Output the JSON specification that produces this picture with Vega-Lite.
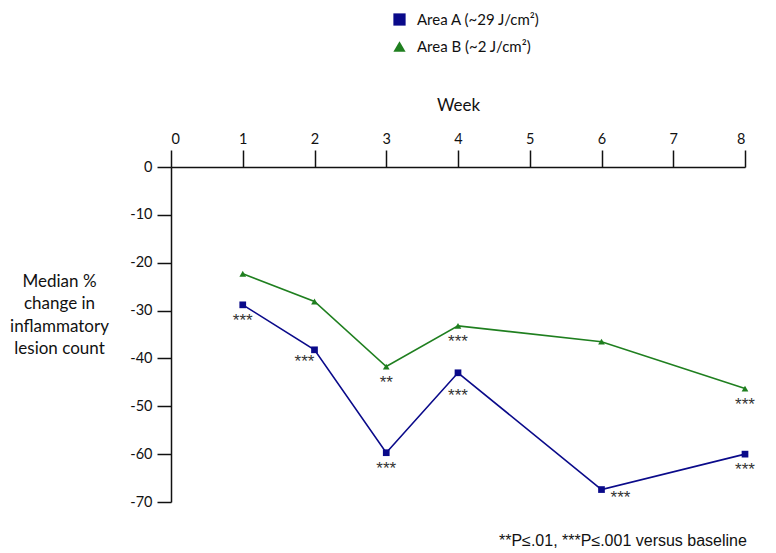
{
  "$schema": "https://vega.github.io/schema/vega-lite/v6.json",
  "width": 574,
  "height": 335,
  "autosize": {"type": "none"},
  "padding": {"left": 171, "top": 167, "right": 31, "bottom": 51},
  "background": "white",
  "config": {"view": {"stroke": null}, "font": "Lato"},
  "title": {
    "text": "**P≤.01, ***P≤.001 versus baseline",
    "orient": "bottom",
    "anchor": "end",
    "offset": 24,
    "dx": -8,
    "font": "Liberation Sans",
    "fontSize": 16,
    "fontWeight": "normal",
    "color": "#111"
  },
  "data": {
    "values": [
      {"week": 1, "value": -28.8, "series": "Area A (~29 J/cm²)", "sig": "***"},
      {"week": 2, "value": -38.2, "series": "Area A (~29 J/cm²)", "sig": "***"},
      {"week": 3, "value": -59.7, "series": "Area A (~29 J/cm²)", "sig": "***"},
      {"week": 4, "value": -43.0, "series": "Area A (~29 J/cm²)", "sig": "***"},
      {"week": 6, "value": -67.4, "series": "Area A (~29 J/cm²)", "sig": "***"},
      {"week": 8, "value": -60.0, "series": "Area A (~29 J/cm²)", "sig": "***"},
      {"week": 1, "value": -22.3, "series": "Area B (~2 J/cm²)", "sig": ""},
      {"week": 2, "value": -28.1, "series": "Area B (~2 J/cm²)", "sig": ""},
      {"week": 3, "value": -41.7, "series": "Area B (~2 J/cm²)", "sig": "**"},
      {"week": 4, "value": -33.2, "series": "Area B (~2 J/cm²)", "sig": "***"},
      {"week": 6, "value": -36.5, "series": "Area B (~2 J/cm²)", "sig": ""},
      {"week": 8, "value": -46.3, "series": "Area B (~2 J/cm²)", "sig": "***"}
    ]
  },
  "encoding": {
    "x": {
      "field": "week",
      "type": "quantitative",
      "scale": {"domain": [0, 8], "nice": false, "zero": false},
      "axis": {
        "orient": "top",
        "title": "Week",
        "titleFontSize": 17,
        "titleFontWeight": "normal",
        "titleColor": "#111",
        "titlePadding": 17,
        "values": [0, 1, 2, 3, 4, 5, 6, 7, 8],
        "labelFontSize": 14.5,
        "labelColor": "#111",
        "labelPadding": 4,
        "tickSize": 17,
        "tickColor": "#111",
        "tickWidth": 1.5,
        "domainColor": "#111",
        "domainWidth": 1.5,
        "grid": false,
        "offset": {"expr": "scale('y', 0)"}
      }
    },
    "y": {
      "field": "value",
      "type": "quantitative",
      "scale": {"domain": [-70, 0], "nice": false},
      "axis": {
        "orient": "left",
        "values": [0, -10, -20, -30, -40, -50, -60, -70],
        "labelExpr": "datum.value + ''",
        "title": ["Median %", "change in", "inflammatory", "lesion count"],
        "titleAngle": 0,
        "titleAlign": "center",
        "titleBaseline": "top",
        "titleX": -112,
        "titleY": 106,
        "titleFontSize": 17,
        "titleFontWeight": "normal",
        "titleColor": "#111",
        "titleLineHeight": 22.5,
        "labelFontSize": 14.5,
        "labelColor": "#111",
        "labelPadding": 5,
        "tickSize": 14,
        "tickColor": "#111",
        "tickWidth": 1.5,
        "domainColor": "#111",
        "domainWidth": 1.5,
        "grid": false
      }
    }
  },
  "layer": [
    {
      "mark": {"type": "line", "strokeWidth": 1.6},
      "encoding": {
        "stroke": {
          "field": "series",
          "type": "nominal",
          "scale": {"range": ["#0a0a8a", "#1f7f1f"]},
          "legend": null
        }
      }
    },
    {
      "mark": {"type": "point", "filled": true, "opacity": 1},
      "encoding": {
        "size": {"value": 45},
        "color": {
          "field": "series",
          "type": "nominal",
          "scale": {"range": ["#0a0a8a", "#1f7f1f"]},
          "legend": {
            "orient": "none",
            "legendX": 221,
            "legendY": -155,
            "title": null,
            "symbolSize": 150,
            "labelFontSize": 15,
            "labelColor": "#111",
            "rowPadding": 11,
            "labelOffset": 10
          }
        },
        "shape": {
          "field": "series",
          "type": "nominal",
          "scale": {"range": ["square", "triangle-up"]},
          "legend": {
            "orient": "none",
            "legendX": 221,
            "legendY": -155,
            "title": null,
            "symbolSize": 150,
            "labelFontSize": 15,
            "labelColor": "#111",
            "rowPadding": 11,
            "labelOffset": 10
          }
        }
      }
    },
    {
      "transform": [
        {"filter": "datum.sig != '' && !(datum.series == 'Area A (~29 J/cm²)' && (datum.week == 2 || datum.week == 4 || datum.week == 6))"}
      ],
      "mark": {"type": "text", "dy": 16, "fontSize": 17, "font": "Liberation Sans", "baseline": "middle", "color": "#333"},
      "encoding": {"text": {"field": "sig"}}
    },
    {
      "transform": [
        {"filter": "datum.series == 'Area A (~29 J/cm²)' && datum.week == 4"}
      ],
      "mark": {"type": "text", "dy": 23, "fontSize": 17, "font": "Liberation Sans", "baseline": "middle", "color": "#333"},
      "encoding": {"text": {"field": "sig"}}
    },
    {
      "transform": [
        {"filter": "datum.series == 'Area A (~29 J/cm²)' && datum.week == 2"}
      ],
      "mark": {"type": "text", "dx": -10, "dy": 12, "fontSize": 17, "font": "Liberation Sans", "baseline": "middle", "color": "#333"},
      "encoding": {"text": {"field": "sig"}}
    },
    {
      "transform": [
        {"filter": "datum.series == 'Area A (~29 J/cm²)' && datum.week == 6"}
      ],
      "mark": {"type": "text", "dx": 19, "dy": 8, "fontSize": 17, "font": "Liberation Sans", "baseline": "middle", "color": "#333"},
      "encoding": {"text": {"field": "sig"}}
    }
  ]
}
